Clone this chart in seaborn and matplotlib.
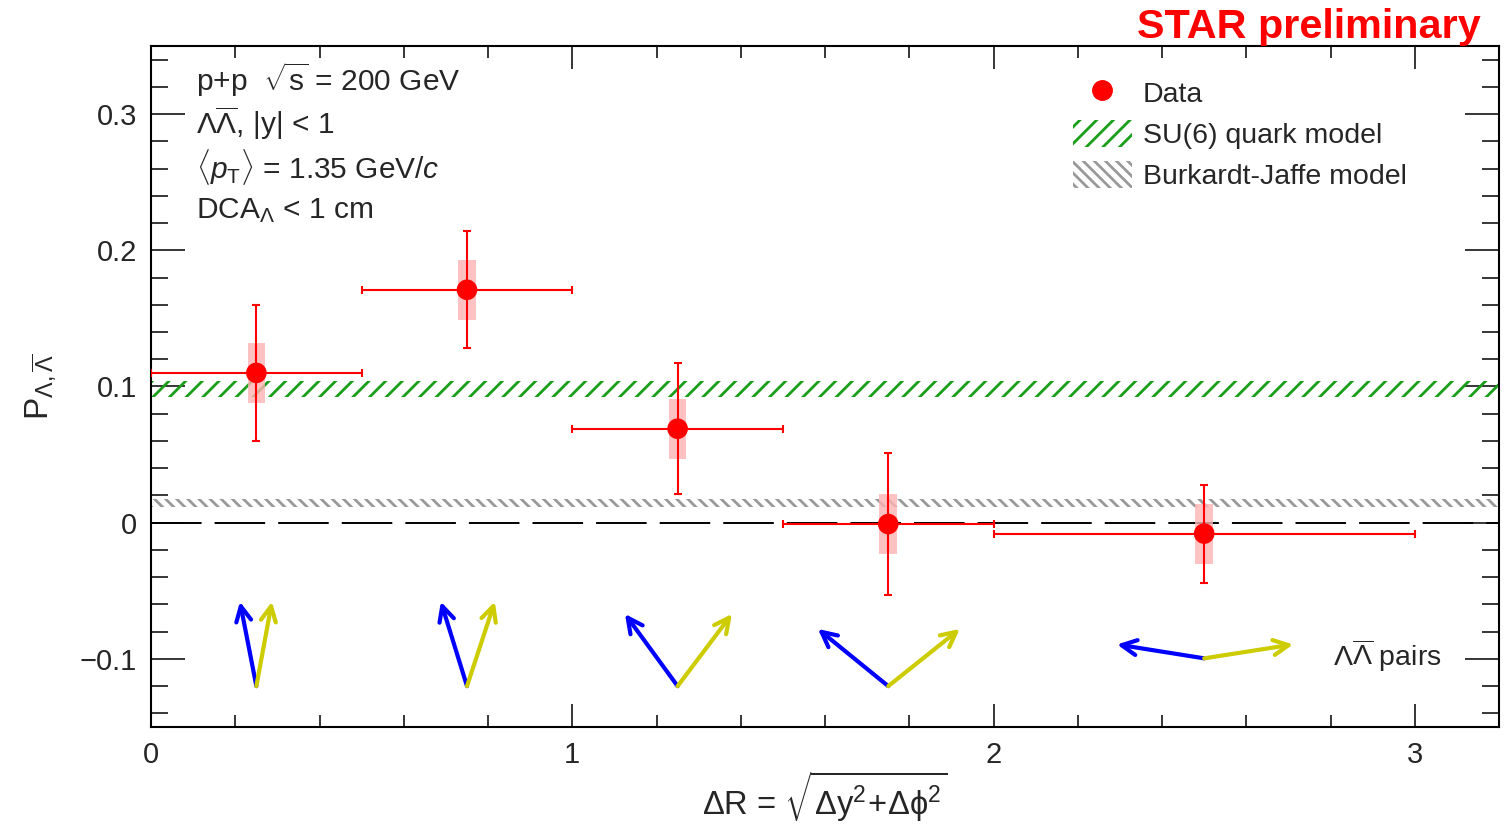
import numpy as np
import pandas as pd
import matplotlib
matplotlib.use("Agg")
import matplotlib.pyplot as plt
import seaborn as sns
from matplotlib.ticker import MultipleLocator
from matplotlib.patches import Patch
from matplotlib.lines import Line2D

# ---- data ----
dr_center = [0.25, 0.75, 1.25, 1.75, 2.5]
dr_low = [0.0, 0.5, 1.0, 1.5, 2.0]
dr_high = [0.5, 1.0, 1.5, 2.0, 3.0]
polarization = [0.110, 0.171, 0.069, -0.001, -0.008]
stat_err = [0.050, 0.043, 0.048, 0.052, 0.036]
sys_err = [0.022, 0.022, 0.022, 0.022, 0.022]

su6_band = [0.092, 0.104]
bj_band = [0.0115, 0.0175]

# illustrative pair arrows: base (x, y), blue tip, yellow tip
arrow_base_x = [0.25, 0.75, 1.25, 1.75, 2.5]
arrow_base_y = [-0.120, -0.120, -0.120, -0.120, -0.0996]
arrow_blue_x = [0.211, 0.688, 1.125, 1.583, 2.293]
arrow_yellow_x = [0.287, 0.816, 1.379, 1.920, 2.711]
arrow_tip_y = [-0.058, -0.058, -0.067, -0.078, -0.0894]

df = pd.DataFrame({"dR": dr_center, "P": polarization})

sns.set_theme(style="ticks")
plt.rcParams["font.family"] = ["Liberation Sans", "DejaVu Sans"]
plt.rcParams["mathtext.fontset"] = "custom"
plt.rcParams["mathtext.rm"] = "Liberation Sans"
plt.rcParams["mathtext.it"] = "Liberation Sans:italic"
plt.rcParams["mathtext.bf"] = "Liberation Sans:bold"
plt.rcParams["hatch.linewidth"] = 2.0

fig = plt.figure(figsize=(15.06, 8.30), dpi=100)
ax = fig.add_axes([0.1003, 0.1241, 0.8951, 0.8205])

ax.set_xlim(0, 3.2)
ax.set_ylim(-0.15, 0.35)

GREEN_HATCH = "//"
GREY_HATCH = "\\\\\\"

# model bands
ax.fill_between([0, 3.2], su6_band[0], su6_band[1], facecolor="none",
                edgecolor="#1a9e1a", hatch=GREEN_HATCH, linewidth=0, zorder=1)
ax.fill_between([0, 3.2], bj_band[0], bj_band[1], facecolor="none",
                edgecolor="#999999", hatch=GREY_HATCH, linewidth=0, zorder=1)

# zero line
ax.axhline(0, color="black", lw=1.4, dashes=(26, 6.7), zorder=2)

# systematic boxes
for x, y, s in zip(dr_center, polarization, sys_err):
    ax.add_patch(plt.Rectangle((x - 0.021, y - s), 0.042, 2 * s,
                               facecolor="#ffb3b3", edgecolor="none", alpha=0.8, zorder=3))

xerr = [np.array(dr_center) - np.array(dr_low), np.array(dr_high) - np.array(dr_center)]
ax.errorbar(dr_center, polarization, xerr=xerr, yerr=stat_err, fmt="none",
            ecolor="red", elinewidth=1.5, capsize=3, capthick=1.5, zorder=4)
sns.scatterplot(data=df, x="dR", y="P", ax=ax, color="red", s=220,
                edgecolor="none", zorder=5, legend=False)

# arrows
for bx, by, blx, yx, ty in zip(arrow_base_x, arrow_base_y, arrow_blue_x, arrow_yellow_x, arrow_tip_y):
    ax.annotate("", xy=(blx, ty), xytext=(bx, by),
                arrowprops=dict(arrowstyle="->,head_length=0.9,head_width=0.45",
                                color="#0000ff", lw=3, shrinkA=0, shrinkB=0), zorder=6)
    ax.annotate("", xy=(yx, ty), xytext=(bx, by),
                arrowprops=dict(arrowstyle="->,head_length=0.9,head_width=0.45",
                                color="#cccc00", lw=3, shrinkA=0, shrinkB=0), zorder=6)
ax.text(2.805, -0.0975, r"$\Lambda\overline{\Lambda}$ pairs", fontsize=20.5, va="center", ha="left")

# axes styling
ax.xaxis.set_major_locator(MultipleLocator(1))
ax.xaxis.set_minor_locator(MultipleLocator(0.2))
ax.yaxis.set_major_locator(MultipleLocator(0.1))
ax.yaxis.set_minor_locator(MultipleLocator(0.02))
ax.tick_params(which="both", direction="in", top=True, right=True, width=1.1, color="black")
ax.tick_params(axis="x", which="major", length=16.6, labelsize=21, pad=10)
ax.tick_params(axis="x", which="minor", length=8.6)
ax.tick_params(axis="y", which="major", length=24.5, labelsize=21, pad=10)
ax.tick_params(axis="y", which="minor", length=12.2)
for sp in ax.spines.values():
    sp.set_linewidth(1.5)
    sp.set_color("black")
ax.set_xticks([0, 1, 2, 3])
ax.set_xticklabels(["0", "1", "2", "3"])
ax.set_yticks([-0.1, 0, 0.1, 0.2, 0.3])
ax.set_yticklabels(["\u22120.1", "0", "0.1", "0.2", "0.3"])

ax.set_xlabel(r"$\Delta$R = $\sqrt{\Delta \mathrm{y}^2\!+\!\Delta\mathrm{\phi}^2}$", fontsize=23.5, labelpad=0)
ax.set_ylabel(r"P$_{\Lambda,\overline{\Lambda}}$", fontsize=24, labelpad=16)

# annotation text
tx = 0.033
ax.text(tx, 0.950, r"p+p  $\sqrt{\mathrm{s}}$ = 200 GeV", transform=ax.transAxes, fontsize=21.5, va="center")
ax.text(tx, 0.887, r"$\Lambda\overline{\Lambda}$, |y| < 1", transform=ax.transAxes, fontsize=21.5, va="center")
ax.text(tx, 0.822, r"$\langle p_{\mathrm{T}}\rangle$ = 1.35 GeV/$c$", transform=ax.transAxes, fontsize=21.5, va="center")
ax.text(tx, 0.759, r"DCA$_{\Lambda}$ < 1 cm", transform=ax.transAxes, fontsize=21.5, va="center")

fig.text(0.983, 0.968, "STAR preliminary", color="red", fontsize=29.8, fontweight="bold",
         ha="right", va="center")

handles = [
    Line2D([], [], marker="o", color="red", linestyle="none", markersize=14),
    Patch(facecolor="none", edgecolor="#1a9e1a", hatch=GREEN_HATCH, linewidth=0),
    Patch(facecolor="none", edgecolor="#999999", hatch=GREY_HATCH, linewidth=0),
]
ax.legend(handles, ["Data", "SU(6) quark model", "Burkardt-Jaffe model"],
          loc="upper left", bbox_to_anchor=(0.6646, 0.990), frameon=False, fontsize=20.5,
          handlelength=2.1, handleheight=1.1, handletextpad=0.36, labelspacing=0.42)

fig.savefig("out.png", dpi=100)
